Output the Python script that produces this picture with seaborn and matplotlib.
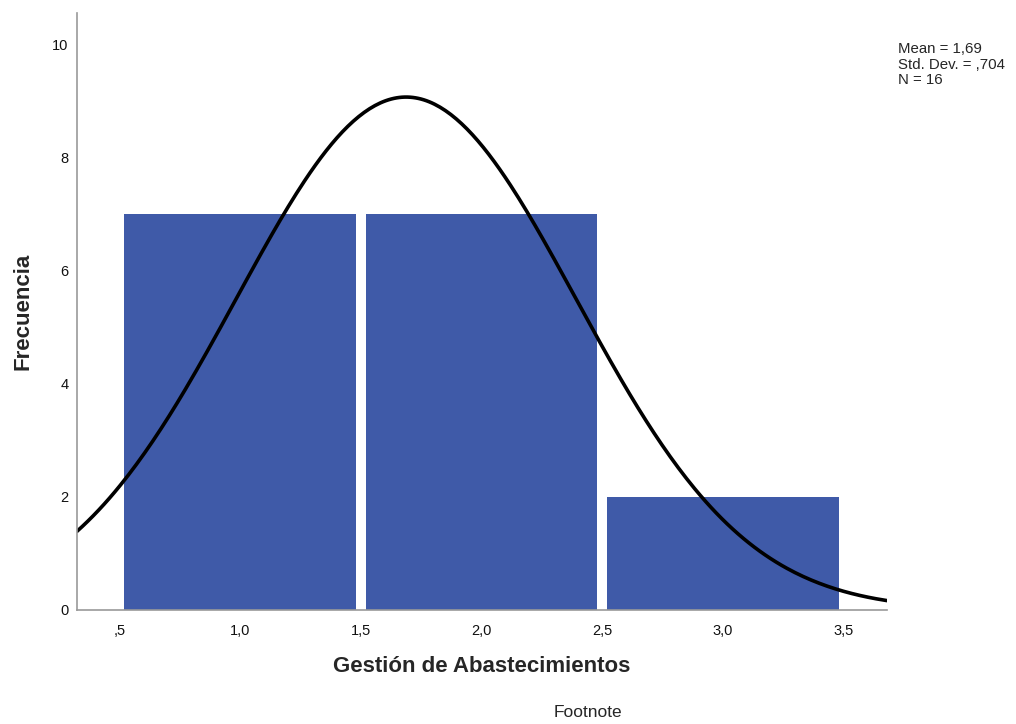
import numpy as np
import pandas as pd
import matplotlib
matplotlib.use('Agg')
import matplotlib.pyplot as plt
import seaborn as sns

# Datos: valores de la escala y frecuencias observadas
valores = [1, 2, 3]
frecuencias = [7, 7, 2]
bordes = [0.5, 1.5, 2.5, 3.5]
ticks_x = [0.5, 1.0, 1.5, 2.0, 2.5, 3.0, 3.5]
etiquetas_x = [',5', '1,0', '1,5', '2,0', '2,5', '3,0', '3,5']
ticks_y = [0, 2, 4, 6, 8, 10]

df = pd.DataFrame({'gestion': np.repeat(valores, frecuencias)})
n = len(df)
media = df['gestion'].mean()
desv = df['gestion'].std()

sns.set_style('white')
plt.rcParams['font.family'] = ['Liberation Sans', 'DejaVu Sans']

fig = plt.figure(figsize=(10.16, 7.24), dpi=100)
ax = fig.add_axes([0.0758, 0.1575, 0.7972, 0.8245])

sns.histplot(data=df, x='gestion', bins=bordes, shrink=0.96,
             color='#3F5AA8', alpha=1, edgecolor='none', ax=ax)

# Curva normal ajustada
xlo, xhi = 0.324, 3.68
xs = np.linspace(xlo, xhi, 300)
ys = n * 1.0 / (desv * np.sqrt(2 * np.pi)) * np.exp(-0.5 * ((xs - media) / desv) ** 2)
sns.lineplot(x=xs, y=ys, color='black', linewidth=2.6, ax=ax)

ax.set_xlim(xlo, xhi)
ax.set_ylim(0, 10.55)
ax.set_xticks(ticks_x)
ax.set_xticklabels(etiquetas_x)
ax.set_yticks(ticks_y)
ax.tick_params(axis='both', length=0, labelsize=10.5, colors='#111111')
ax.tick_params(axis='x', pad=10)
ax.tick_params(axis='y', pad=6)
for s in ['top', 'right']:
    ax.spines[s].set_visible(False)
for s in ['left', 'bottom']:
    ax.spines[s].set_color('#999999')
    ax.spines[s].set_linewidth(1.2)

ax.set_xlabel('Gestión de Abastecimientos', fontsize=16, fontweight='bold')
ax.set_ylabel('Frecuencia', fontsize=16, fontweight='bold')
ax.xaxis.set_label_coords(0.5, -0.077)
ax.yaxis.set_label_coords(-0.054, 0.5)

fig.text(0.884, 0.942, f'Mean = {media:.2f}'.replace('.', ',') + '\n'
         + f'Std. Dev. = {desv:.3f}'.replace('0.', ',') + '\n'
         + f'N = {n}',
         fontsize=10.8, va='top', ha='left', linespacing=1.15)
fig.text(0.579, 0.006, 'Footnote', fontsize=12.5, ha='center', va='bottom')

fig.savefig('out.png', dpi=100)
